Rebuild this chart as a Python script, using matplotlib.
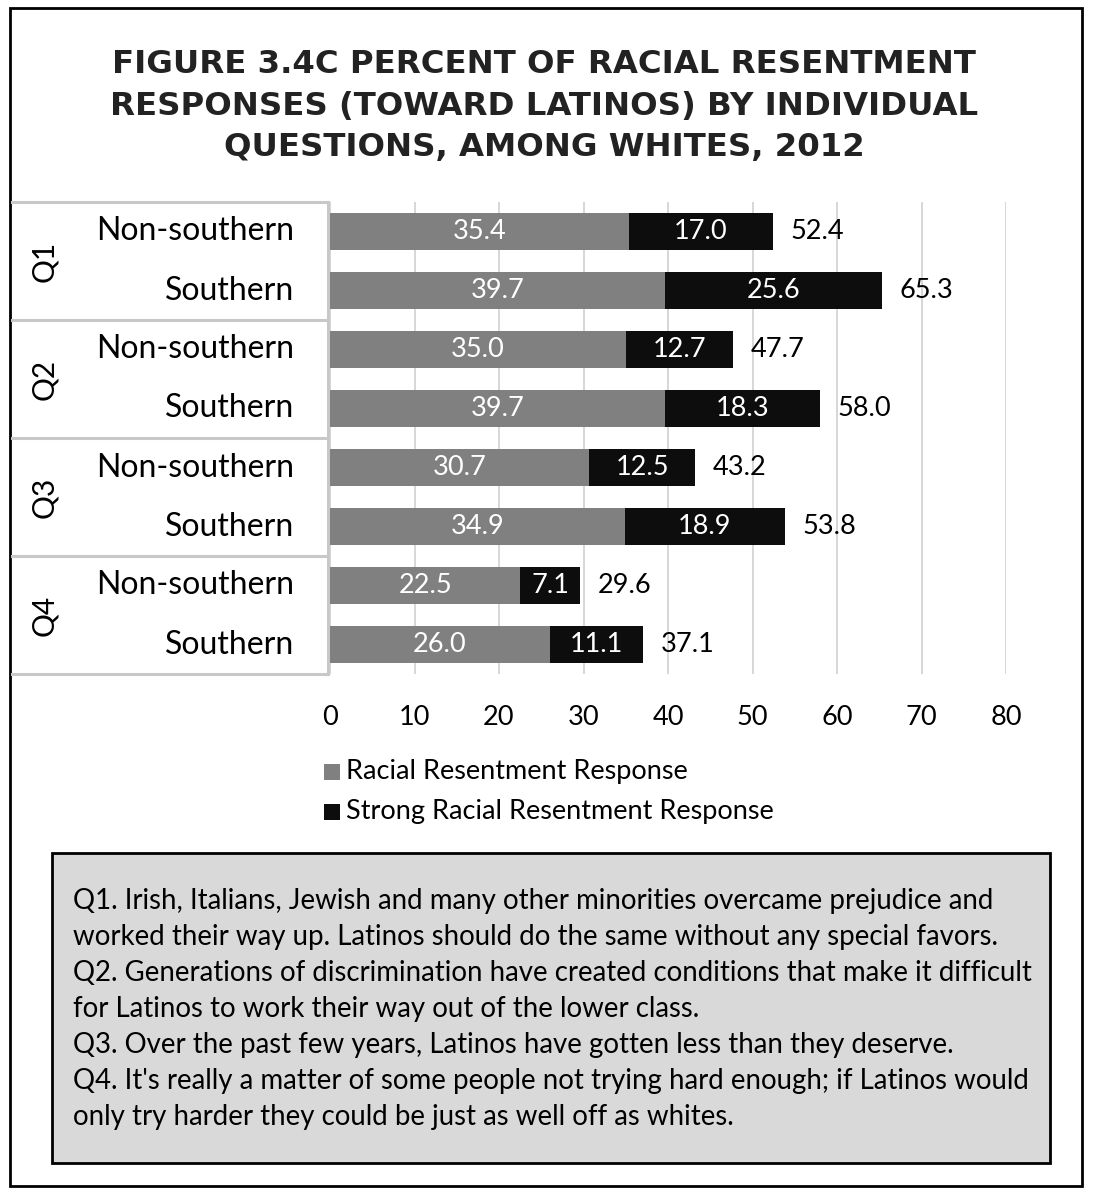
import matplotlib
matplotlib.use("Agg")
import matplotlib.pyplot as plt
from matplotlib.patches import Rectangle
from matplotlib.lines import Line2D

questions = ["Q1", "Q2", "Q3", "Q4"]
groups = ["Non-southern", "Southern"]
racial = [35.4, 39.7, 35.0, 39.7, 30.7, 34.9, 22.5, 26.0]
strong = [17.0, 25.6, 12.7, 18.3, 12.5, 18.9, 7.1, 11.1]
totals = [52.4, 65.3, 47.7, 58.0, 43.2, 53.8, 29.6, 37.1]
xticks = [0, 10, 20, 30, 40, 50, 60, 70, 80]
title = ("FIGURE 3.4C PERCENT OF RACIAL RESENTMENT\n"
         "RESPONSES (TOWARD LATINOS) BY INDIVIDUAL\n"
         "QUESTIONS, AMONG WHITES, 2012")
notes = [
    "Q1. Irish, Italians, Jewish and many other minorities overcame prejudice and",
    "worked their way up. Latinos should do the same without any special favors.",
    "Q2. Generations of discrimination have created conditions that make it difficult",
    "for Latinos to work their way out of the lower class.",
    "Q3. Over the past few years, Latinos have gotten less than they deserve.",
    "Q4. It's really a matter of some people not trying hard enough; if Latinos would",
    "only try harder they could be just as well off as whites.",
]

W, H = 1097, 1200
FONT = ["Lato", "DejaVu Sans"]
plt.rcParams["font.family"] = FONT
fig = plt.figure(figsize=(W / 100, H / 100), dpi=100)

def fx(px):
    return px / W

def fy(py):
    return 1 - py / H

GRAY = "#808080"
BLACK = "#0d0d0d"

# outer border
fig.add_artist(Rectangle((fx(10), fy(1186)), fx(1082) - fx(10), fy(8) - fy(1186),
                         transform=fig.transFigure, fill=False, edgecolor="black", lw=2))

# title
fig.text(fx(544), fy(106), title, ha="center", va="center", fontsize=23.3,
         fontweight="bold", linespacing=1.42, family=["DejaVu Sans"],
         color="#222222")

# axes
ax = fig.add_axes([fx(330), fy(674), fx(1006) - fx(330), fy(202) - fy(674)])
n = len(racial)
ypos = list(range(n))
ax.barh(ypos, racial, height=0.62, color=GRAY, zorder=3)
ax.barh(ypos, strong, left=racial, height=0.62, color=BLACK, zorder=3)
for i in range(n):
    ax.text(racial[i] / 2, i, f"{racial[i]:.1f}", ha="center", va="center",
            color="white", fontsize=19.5, zorder=4)
    ax.text(racial[i] + strong[i] / 2, i, f"{strong[i]:.1f}", ha="center", va="center",
            color="white", fontsize=19.5, zorder=4)
    ax.text(totals[i] + 2.1, i, f"{totals[i]:.1f}", ha="left", va="center",
            color="black", fontsize=19.5, zorder=4)
ax.set_xlim(0, 80)
ax.set_ylim(n - 0.5, -0.5)
ax.set_xticks(xticks)
ax.set_xticklabels([str(t) for t in xticks], fontsize=19.5)
ax.tick_params(axis="x", length=0, pad=22)
ax.set_yticks([])
ax.grid(axis="x", color="#d4d4d4", lw=1.3, zorder=0)
for s in ax.spines.values():
    s.set_visible(False)

# category box
lc = "#c8c8c8"
for k in range(5):
    y = 202 + k * 118
    fig.add_artist(Line2D([fx(12), fx(328)], [fy(y), fy(y)], transform=fig.transFigure,
                          color=lc, lw=2.2))
fig.add_artist(Line2D([fx(328), fx(328)], [fy(202), fy(674)], transform=fig.transFigure,
                      color=lc, lw=2.2))
for qi, q in enumerate(questions):
    yc = 202 + qi * 118 + 59
    fig.text(fx(44), fy(yc), q, rotation=90, ha="center", va="center", fontsize=21.5)
    for gi, g in enumerate(groups):
        yy = 202 + qi * 118 + 29.5 + gi * 59
        fig.text(fx(294), fy(yy), g, ha="right", va="center", fontsize=23)

# legend
for li, (lab, col) in enumerate([("Racial Resentment Response", GRAY),
                                  ("Strong Racial Resentment Response", BLACK)]):
    yy = 772 + li * 40
    fig.add_artist(Rectangle((fx(324), fy(yy + 8)), fx(16), fy(0) - fy(16),
                             transform=fig.transFigure, facecolor=col, edgecolor="none"))
    fig.text(fx(346), fy(yy), lab, ha="left", va="center", fontsize=19.5)

# notes box
fig.add_artist(Rectangle((fx(52), fy(1163)), fx(1050) - fx(52), fy(853) - fy(1163),
                         transform=fig.transFigure, facecolor="#d9d9d9",
                         edgecolor="black", lw=2))
for li, line in enumerate(notes):
    fig.text(fx(73), fy(901 + li * 36), line, ha="left", va="center", fontsize=19.9)

fig.savefig("out.png", dpi=100)
